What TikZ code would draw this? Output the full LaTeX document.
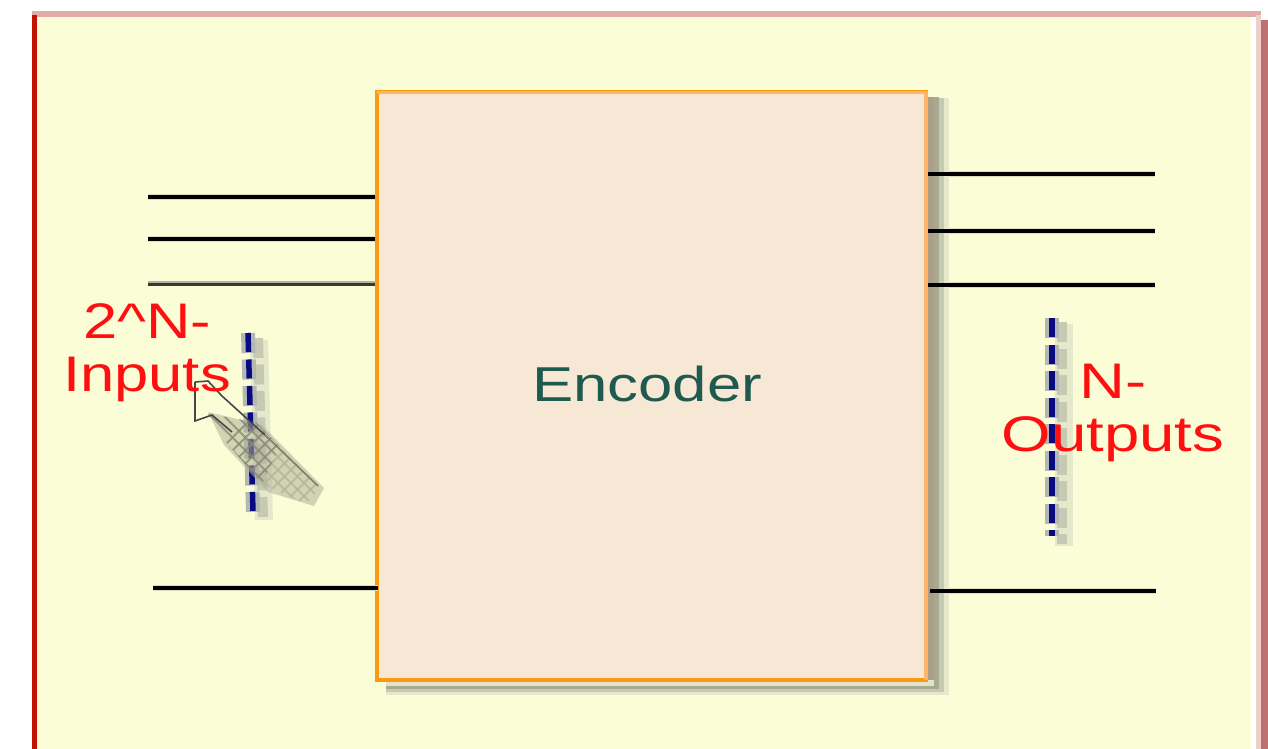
\documentclass[tikz,border=0pt]{standalone}
\usepackage{fontspec}
\setmainfont{Liberation Sans}
\definecolor{panelfill}{HTML}{FBFDD6}
\definecolor{bandtop}{HTML}{E2AAA8}
\definecolor{bandleft}{HTML}{C41200}
\definecolor{bandrightL}{HTML}{EFCFCC}
\definecolor{bandrightD}{HTML}{BE7070}
\definecolor{boxfill}{HTML}{F7E8D5}
\definecolor{boxedge}{HTML}{FB9A12}
\definecolor{boxedgelt}{HTML}{FFB468}
\definecolor{enc}{HTML}{1F5A4E}
\definecolor{lab}{HTML}{FF1010}
\definecolor{dash}{HTML}{0A0A80}
\definecolor{flank}{HTML}{B4B8B4}
\definecolor{shadeA}{HTML}{C6CAB2}
\definecolor{shadeB}{HTML}{E6E8CC}
\tikzset{
  wire/.style={draw=black,line width=3.2pt},
  wireglow/.style={draw=black!12!panelfill,line width=6.5pt},
  labeltext/.style={text=lab,font=\fontsize{50}{55}\selectfont,align=center,inner sep=0pt},
  dashline/.style={draw=dash,line width=5.5pt,dash pattern=on 19pt off 7.5pt},
  dashflank/.style={draw=flank,line width=14pt,dash pattern=on 20pt off 6.5pt},
  dashshadeA/.style={draw=shadeA,line width=10pt,dash pattern=on 20pt off 6.5pt},
  dashshadeB/.style={draw=shadeB,line width=18pt},
  cursorline/.style={draw=black!72,line width=1.6pt},
  hatchline/.style={draw=black!45!panelfill,line width=2pt,opacity=.8},
  hatchlight/.style={draw=black!28!panelfill,line width=2pt,opacity=.8}
}
\begin{document}
\begin{tikzpicture}[x=1pt,y=-1pt]
\useasboundingbox (0,0) rectangle (1268,749);
% panel
\fill[white] (0,0) rectangle (1268,749);
\fill[panelfill] (37,17) rectangle (1251,749);
\fill[bandtop] (32,11) rectangle (1261,17.5);
\fill[bandleft] (32,15) rectangle (37,749);
\fill[bandrightL] (1256,15) rectangle (1261,749);
\fill[bandrightD] (1261,20) rectangle (1268,749);
% wire glow
\coordinate (gl1) at (950,174); \coordinate (gl2) at (950,231); \coordinate (gl3) at (950,285); \coordinate (gl4) at (950,591);
\coordinate (o1) at (1155,174); \coordinate (oe1) at (928,174);
\coordinate (o2) at (1155,231); \coordinate (oe2) at (928,231);
\coordinate (o3) at (1155,285); \coordinate (oe3) at (928,285);
\coordinate (o4) at (1156,591); \coordinate (oe4) at (930,591);
\draw[wireglow] (oe1) -- (o1);
\draw[wireglow] (oe2) -- (o2);
\draw[wireglow] (oe3) -- (o3);
\draw[wireglow] (oe4) -- (o4);
% box shadow
\fill[shadeB] (386,98) rectangle (949,695);
\fill[shadeA] (386,98) rectangle (944,692);
\fill[black!33!panelfill] (386,97) rectangle (939,689);
\fill[black!50!blue!10!panelfill] (386,97) rectangle (934,686);
\fill[brown!30!gray!75!panelfill] (920,97) rectangle (934,680);
% box
\node[draw=boxedge,fill=boxfill,line width=4pt,minimum width=549pt,minimum height=587pt,inner sep=0pt,outer sep=0pt,anchor=north west] (enc) at (377,92.5) {};
\draw[boxedgelt,line width=3.6pt] (enc.north west) -- (enc.north east) -- (enc.south east);
\node[text=enc,font=\fontsize{49}{55}\selectfont,xscale=1.26,inner sep=0pt] (enclabel) at (647,384) {Encoder};
% input wires
\coordinate (i1) at (148,197); \coordinate (ie1) at (375,197);
\coordinate (i2) at (148,239); \coordinate (ie2) at (375,239);
\coordinate (i3) at (148,284.5); \coordinate (ie3) at (375,284.5);
\coordinate (i3s) at (148,282); \coordinate (ie3s) at (375,282);
\coordinate (i4) at (153,588); \coordinate (ie4) at (378,588);
\draw[wireglow] (i1) -- (ie1);
\draw[wireglow] (i2) -- (ie2);
\draw[wireglow] (i4) -- (ie4);
\draw[wire] (i1) -- (ie1);
\draw[wire] (i2) -- (ie2);
\draw[draw=gray!60!panelfill,line width=3pt] (i3s) -- (ie3s);
\draw[wire,line width=3pt,draw=black!78!panelfill] (i3) -- (ie3);
\draw[wire] (i4) -- (ie4);
% output wires
\draw[wire] (oe1) -- (o1);
\draw[wire] (oe2) -- (o2);
\draw[wire] (oe3) -- (o3);
\draw[wire] (oe4) -- (o4);
% dashed bus marks
\coordinate (la) at (248,333); \coordinate (lb) at (253,512);
\coordinate (ra) at (1052,318); \coordinate (rb) at (1052,536);
\draw[dashshadeB] (259,340) -- (264,520);
\draw[dashshadeB] (1064,324) -- (1064,546);
\draw[dashshadeA] (258,338) -- (263,518);
\draw[dashshadeA] (1062,322) -- (1062,544);
\draw[dashflank] (la) -- (lb);
\draw[dashflank] (ra) -- (rb);
\draw[dashline] (la) -- (lb);
\draw[dashline] (ra) -- (rb);
% cursor shadow and hatching
\fill[black!30!panelfill,opacity=.55] (208,412) -- (262,425) -- (324,488) -- (314,506) -- (268,492) -- (224,445) -- cycle;
\begin{scope}
  \clip (208,414) -- (256,422) -- (280,447) -- (262,484) -- (226,442) -- cycle;
  \foreach \d in {-70,-57,...,130} {
    \draw[hatchline] (200+\d,400) -- (340+\d,540);
    \draw[hatchline] (200+\d,540) -- (340+\d,400);
  }
\end{scope}
\begin{scope}
  \clip (280,447) -- (320,488) -- (306,504) -- (262,484) -- cycle;
  \foreach \d in {-70,-57,...,130} {
    \draw[hatchlight] (200+\d,400) -- (340+\d,540);
    \draw[hatchlight] (200+\d,540) -- (340+\d,400);
  }
\end{scope}
\draw[cursorline] (195,382) -- (195,421) -- (212,415) -- (232,432);
\draw[cursorline] (195,382) -- (208,381) -- (222,396) -- (265,435);
\draw[cursorline,draw=black!50!panelfill] (265,435) -- (318,486);
% labels
\node[labeltext,xscale=1.23] (inlabel) at (147,353) {2\^{}N-\\[-2pt]Inputs};
\node[labeltext,xscale=1.27] (outlabel) at (1113,413) {N-\\[-2pt]Outputs};
\end{tikzpicture}
\end{document}
